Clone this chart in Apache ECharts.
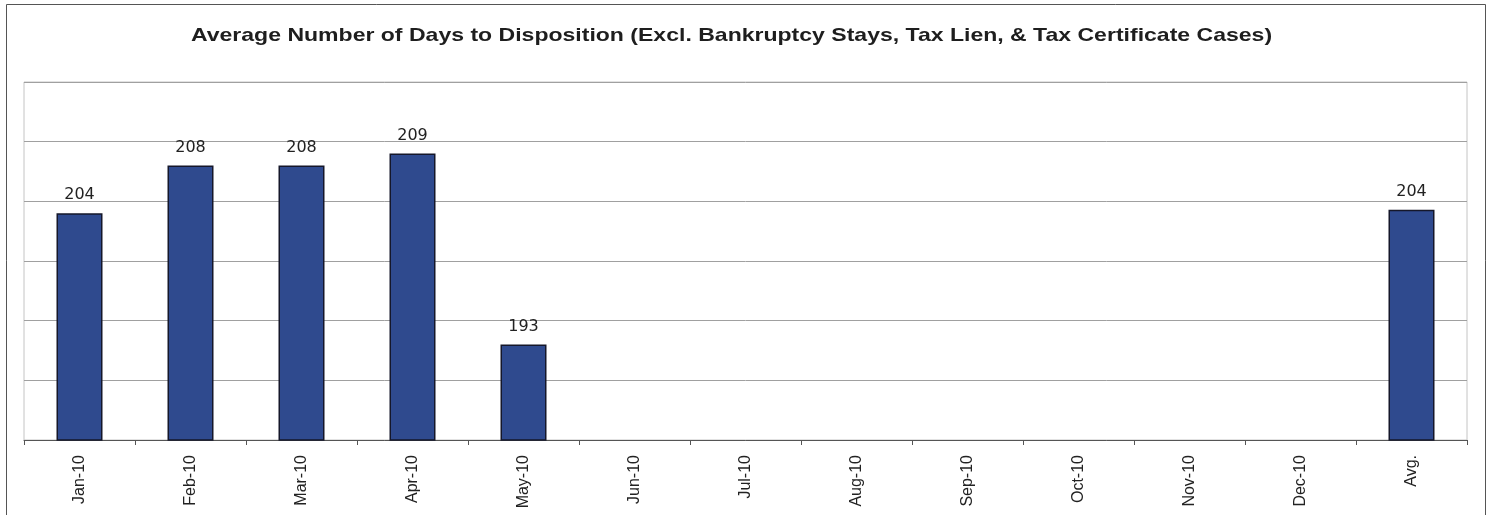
<!DOCTYPE html>
<html><head><meta charset="utf-8">
<script src="https://cdn.jsdelivr.net/npm/echarts@6/dist/echarts.min.js"></script>
<style>html,body{margin:0;padding:0;background:#fff;}#c{width:1493px;height:515px;}</style>
</head><body><div id="c"></div>
<script>
const categories = ['Jan-10','Feb-10','Mar-10','Apr-10','May-10','Jun-10','Jul-10','Aug-10','Sep-10','Oct-10','Nov-10','Dec-10','Avg.'];
const values = [204, 208, 208, 209, 193, null, null, null, null, null, null, null, 204.3];
const yMin = 185, yMax = 215, yStep = 5;
const titleText = 'Average Number of Days to Disposition (Excl. Bankruptcy Stays, Tax Lien, & Tax Certificate Cases)';

const chart = echarts.init(document.getElementById('c'), null, {renderer:'canvas'});
chart.setOption({
  backgroundColor: '#fff',
  animation: false,
  graphic: [{
    type: 'rect', silent: true,
    shape: {x: 6.5, y: 4.5, width: 1479, height: 530},
    style: {fill: 'none', stroke: '#555', lineWidth: 1}
  }, {
    type: 'text', silent: true, x: 731.5, y: 35.5, scaleX: 1.245,
    style: {text: titleText, fontFamily: 'Liberation Sans, Arial, sans-serif', fontWeight: 'bold', fontSize: 18.5,
      fill: '#1e1e1e', align: 'center', verticalAlign: 'middle'}
  }],
  grid: {left: 24, right: 26, top: 82, bottom: 75, show: true, borderColor: '#c4c4c4', borderWidth: 1},
  xAxis: {
    type: 'category', data: categories, boundaryGap: true,
    axisLine: {lineStyle: {color: '#555', width: 1}},
    axisTick: {show: true, length: 5, lineStyle: {color: '#555'}},
    axisLabel: {rotate: 90, fontFamily: 'Liberation Sans, Arial, sans-serif', fontSize: 16, color: '#222', margin: 15}
  },
  yAxis: {
    type: 'value', min: yMin, max: yMax, interval: yStep,
    axisLine: {show: false}, axisTick: {show: false}, axisLabel: {show: false},
    splitLine: {lineStyle: {color: '#a0a0a0', width: 1}}
  },
  series: [{
    type: 'bar', data: values, barWidth: 46,
    itemStyle: {color: '#2f4a8e', borderColor: '#15172a', borderWidth: 1.5},
    label: {
      show: true, position: 'top', distance: 10,
      formatter: p => Math.round(p.value),
      fontFamily: 'DejaVu Sans, sans-serif', fontSize: 16, color: '#222'
    }
  }]
});
</script></body></html>
